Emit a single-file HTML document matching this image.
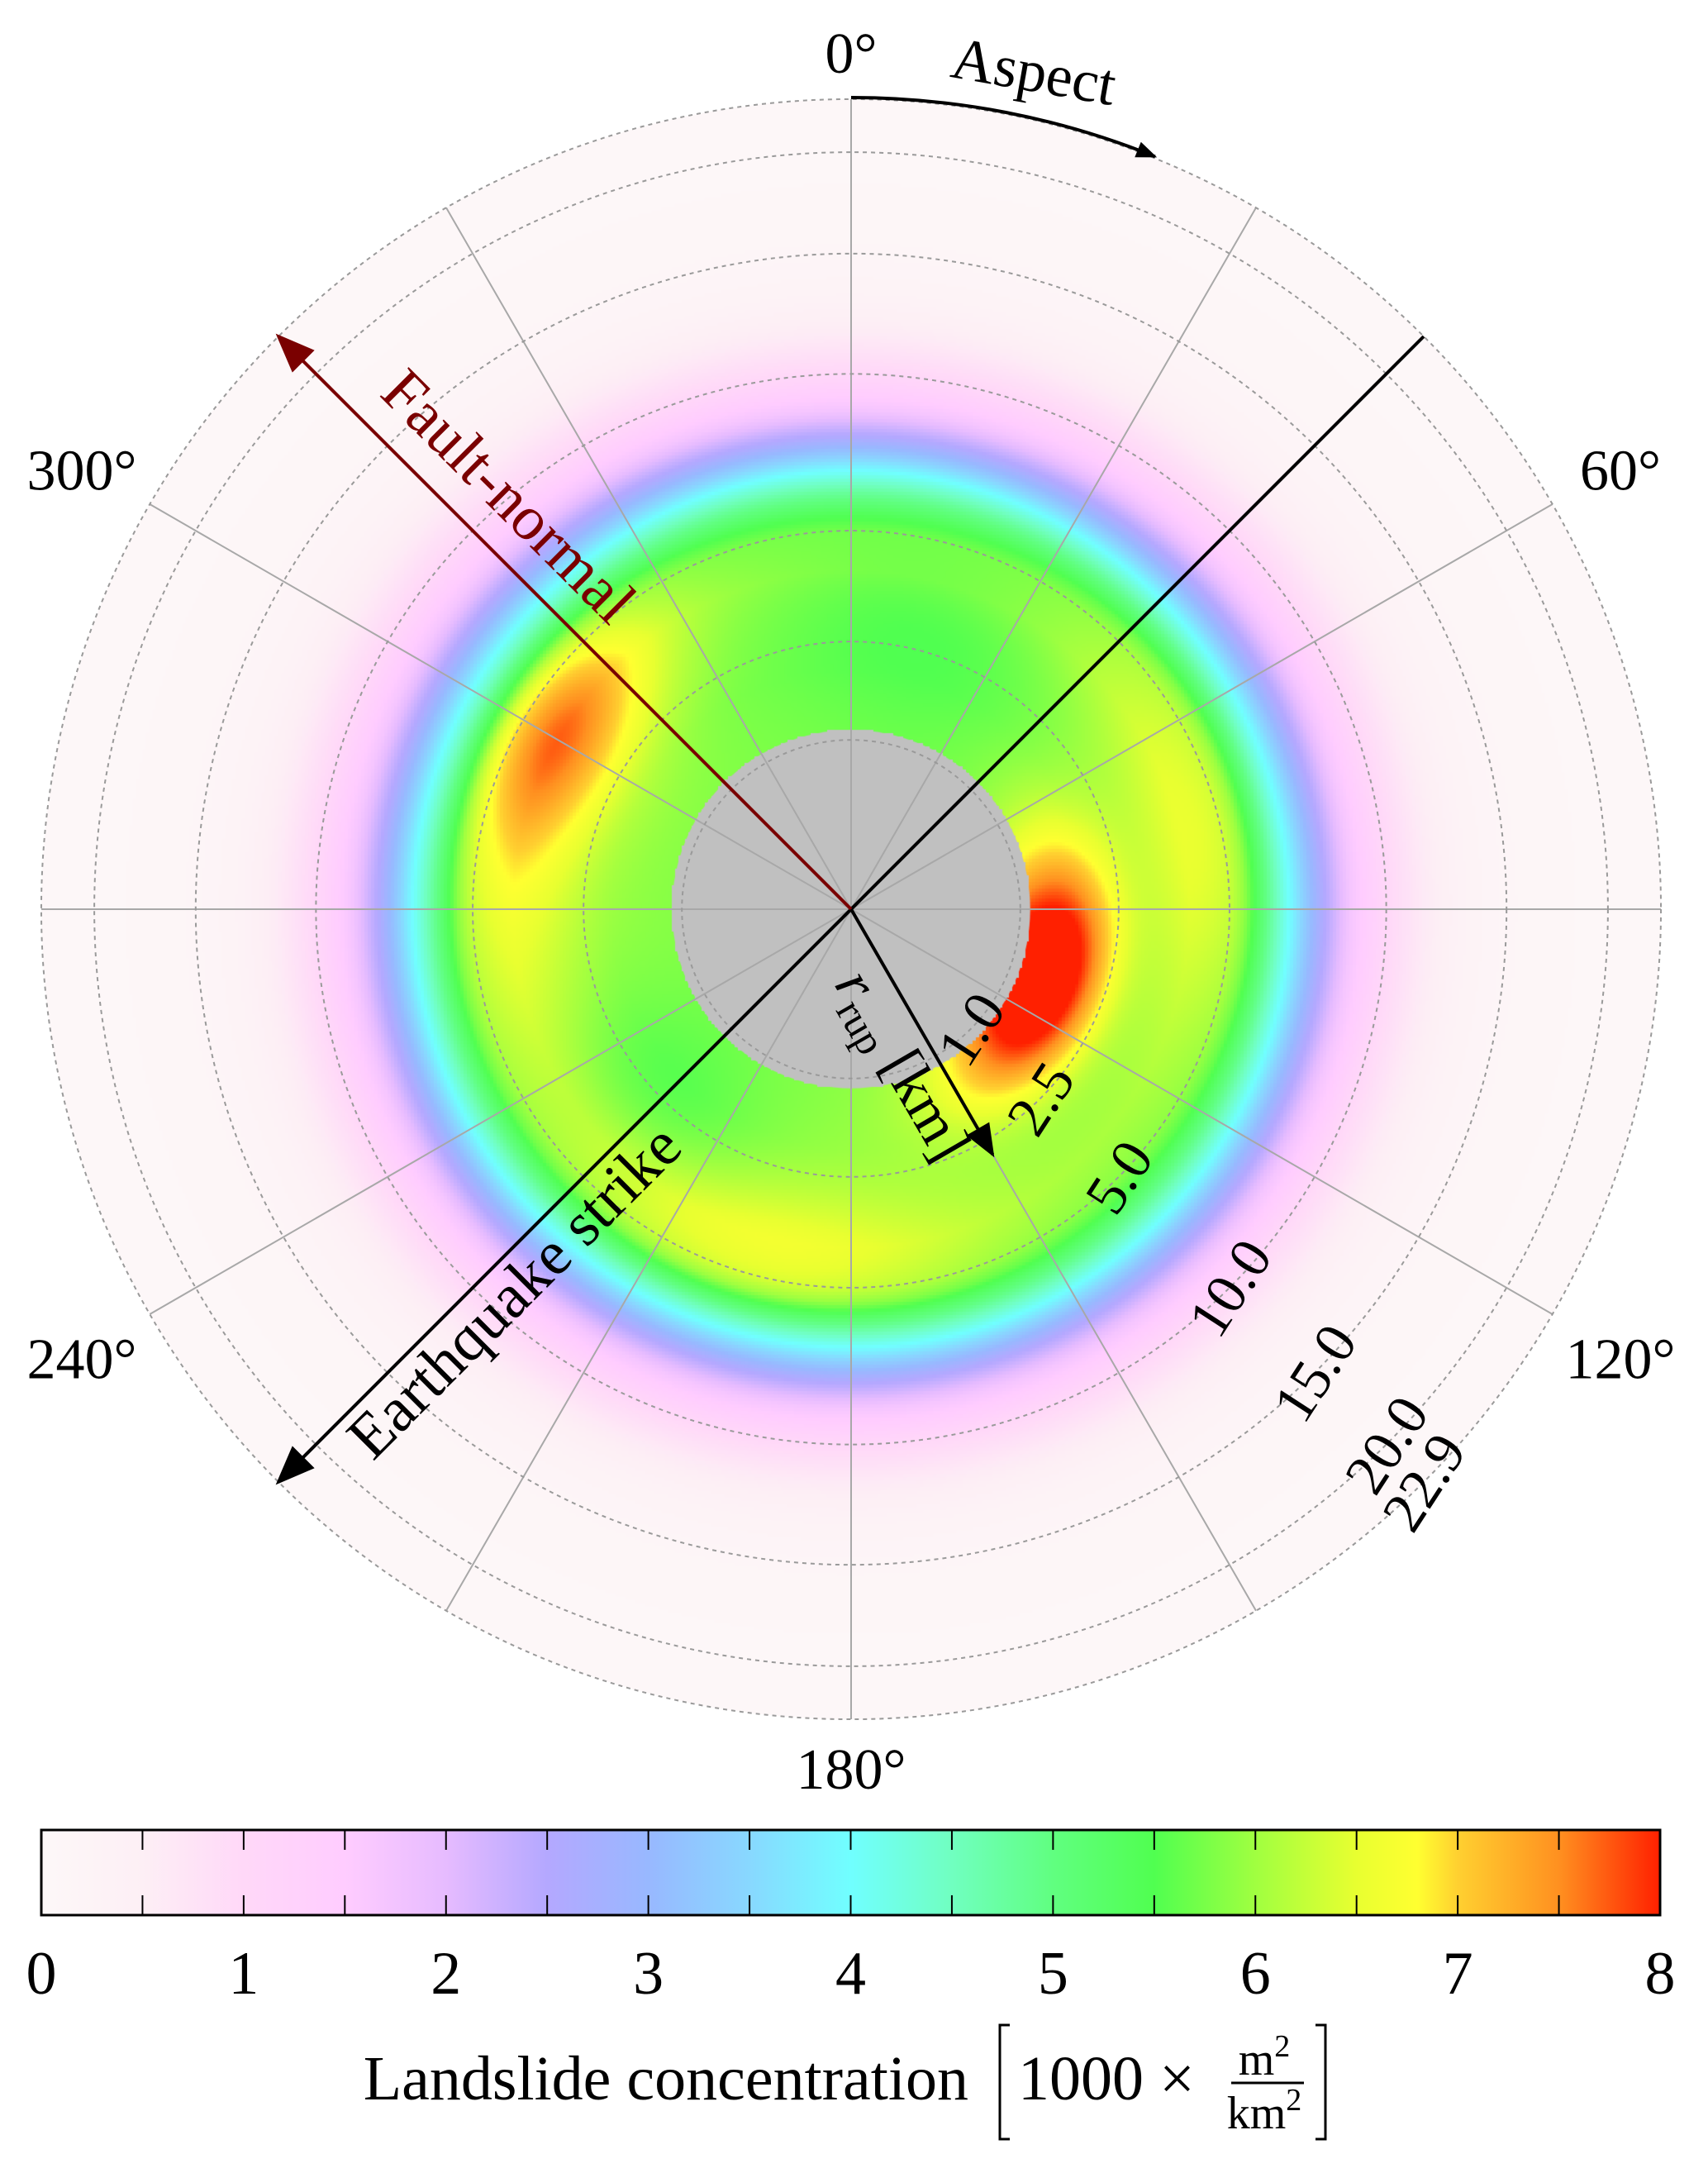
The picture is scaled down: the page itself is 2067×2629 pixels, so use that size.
<!DOCTYPE html>
<html><head><meta charset="utf-8"><style>
html,body{margin:0;padding:0;background:#fff}
#wrap{position:relative;width:2067px;height:2629px;overflow:hidden}
canvas,svg{position:absolute;left:0;top:0}
text{font-family:"Liberation Serif",serif}
</style></head><body>
<div id="wrap">
<canvas id="heat" width="2067" height="2629"></canvas>
<svg id="svg" width="2067" height="2629"></svg>
</div>
<script>
// ---- data ----
const ringDistances = [1.0, 2.5, 5.0, 10.0, 15.0, 20.0, 22.9];
const ringLabels = ["1.0","2.5","5.0","10.0","15.0","20.0","22.9"];
const angleLabelValues = [0, 60, 120, 180, 240, 300];
const profileDist = [1.1, 2.0, 3.0, 4.0, 5.0, 5.4, 6.05, 6.7, 7.2, 7.75, 8.7, 10.1, 11.5, 13.2, 16, 23];
const profileValue = [5.8, 5.8, 5.9, 6.0, 5.8, 5.5, 4.8, 4.0, 3.3, 2.6, 1.7, 1.0, 0.6, 0.3, 0.1, 0.05];
const hotspotAspect = [110, 301, 75, 195, 268, 15, 225];
const hotspotDist = [1.4, 4.0, 4.5, 4.3, 4.0, 3.0, 2.6];
const hotspotPeak = [3.0, 1.6, 0.6, 0.7, 0.5, -0.4, -0.4];
const hotspotAspectWidth = [26, 15, 25, 25, 20, 25, 18];
const hotspotDistWidth = [0.7, 1.1, 1.3, 1.3, 1.3, 1.3, 1.0];
const colorTicks = [0,1,2,3,4,5,6,7,8];
const strikeAspect = 225, faultNormalAspect = 315, rrupAspect = 150, rrupLength = 2.8, ringLabelAspect = 135;
const innerDist = 1.12;

// ---- scales ----
const CX = 1030, CY = 1100, K = 204.8, DMAX = 22.9;
const rad = d => K * Math.sqrt(d);
const R = rad(DMAX);
const pt = (aspect, r) => [CX + r*Math.sin(aspect*Math.PI/180), CY - r*Math.cos(aspect*Math.PI/180)];
const cStops = [[0,"#fdf8f8"],[0.5,"#fdeff5"],[1,"#ffd8f8"],[1.5,"#ffccff"],[2,"#e6bbff"],[2.5,"#b4a8ff"],[3,"#98b8ff"],[3.5,"#88d8ff"],[4,"#70ffff"],[4.5,"#70ffc0"],[5,"#60ff80"],[5.5,"#50ff50"],[6,"#a0ff40"],[6.5,"#e8ff30"],[6.8,"#ffff30"],[7,"#ffd030"],[7.5,"#ff9020"],[8,"#ff2000"]];
function hex(h){return [parseInt(h.slice(1,3),16),parseInt(h.slice(3,5),16),parseInt(h.slice(5,7),16)];}
function cmap(v){v=Math.max(0,Math.min(8,v));for(let i=1;i<cStops.length;i++){if(v<=cStops[i][0]){const a=cStops[i-1],b=cStops[i];const t=(v-a[0])/(b[0]-a[0]);const A=hex(a[1]),B=hex(b[1]);return A.map((x,k)=>Math.round(x+(B[k]-x)*t));}}return hex("#ff2000");}
function profile(d){if(d<=profileDist[0])return profileValue[0];for(let i=1;i<profileDist.length;i++){if(d<=profileDist[i]){const t=(d-profileDist[i-1])/(profileDist[i]-profileDist[i-1]);return profileValue[i-1]+t*(profileValue[i]-profileValue[i-1]);}}return profileValue[profileValue.length-1];}
function field(aspect,d){let v=profile(d);const w=Math.max(0,Math.min(1,(6.6-d)/1.2));for(let i=0;i<hotspotAspect.length;i++){let da=((aspect-hotspotAspect[i])%360+540)%360-180;const dd=d-hotspotDist[i];v+=w*hotspotPeak[i]*Math.exp(-0.5*(da/hotspotAspectWidth[i])**2-0.5*(dd/hotspotDistWidth[i])**2);}return v;}

// ---- heatmap ----
const ctx=document.getElementById('heat').getContext('2d');
const S=4;
for(let y=Math.floor(CY-R);y<CY+R;y+=S){for(let x=Math.floor(CX-R);x<CX+R;x+=S){const dx=x+S/2-CX,dy=y+S/2-CY;const r=Math.hypot(dx,dy);if(r>R+2)continue;const d=(r/K)**2;let c;if(d<innerDist)c=[192,192,192];else{const a=(Math.atan2(dx,-dy)*180/Math.PI+360)%360;c=cmap(field(a,d));}ctx.fillStyle=`rgb(${c[0]},${c[1]},${c[2]})`;ctx.fillRect(x,y,S,S);}}
ctx.fillStyle="#c0c0c0";ctx.beginPath();ctx.arc(CX,CY,rad(innerDist),0,2*Math.PI);ctx.fill();
ctx.globalCompositeOperation="destination-in";ctx.beginPath();ctx.arc(CX,CY,R,0,2*Math.PI);ctx.fill();ctx.globalCompositeOperation="source-over";

// ---- svg ----
const NS="http://www.w3.org/2000/svg";const svg=document.getElementById('svg');
function el(tag,attrs,parent){const e=document.createElementNS(NS,tag);for(const k in attrs)e.setAttribute(k,attrs[k]);(parent||svg).appendChild(e);return e;}
const defs=el('defs',{});
const m1=el('marker',{id:'ah',refX:'9',refY:'4',orient:'auto',markerUnits:'userSpaceOnUse',viewBox:'0 0 10 8',markerWidth:'50',markerHeight:'38'},defs);
el('path',{d:'M0,0 L10,4 L0,8 Z',fill:'#000'},m1);
const m2=el('marker',{id:'ahr',refX:'9',refY:'4',orient:'auto',markerUnits:'userSpaceOnUse',viewBox:'0 0 10 8',markerWidth:'50',markerHeight:'38'},defs);
el('path',{d:'M0,0 L10,4 L0,8 Z',fill:'#7a0000'},m2);
const m3=el('marker',{id:'ahs',refX:'9',refY:'4',orient:'auto',markerUnits:'userSpaceOnUse',viewBox:'0 0 10 8',markerWidth:'44',markerHeight:'32'},defs);
el('path',{d:'M0,0 L10,4 L0,8 Z',fill:'#000'},m3);
const m4=el('marker',{id:'aha',refX:'9',refY:'4',orient:'auto',markerUnits:'userSpaceOnUse',viewBox:'0 0 10 8',markerWidth:'32',markerHeight:'20'},defs);
el('path',{d:'M0,0 L10,4 L0,8 Z',fill:'#000'},m4);

for(let a=0;a<360;a+=30){const [x,y]=pt(a,R);const l=el('line',{x1:CX,y1:CY,x2:x,y2:y,stroke:'#a8a8a8','stroke-width':2});
}
ringDistances.forEach((d,i)=>{const c=el('circle',{cx:CX,cy:CY,r:rad(d),fill:'none',stroke:'#9a9a9a','stroke-width':2,'stroke-dasharray':'5,5'});
});
ringDistances.forEach((d,i)=>{const [x,y]=pt(ringLabelAspect,rad(d));const t=el('text',{x:x,y:y+24,'font-size':70,'text-anchor':'middle',transform:`rotate(-57 ${x} ${y})`});t.textContent=ringLabels[i];
});
angleLabelValues.forEach(a=>{const off=(a%180===0)?62:95;const [x,y]=pt(a,R+off);const t=el('text',{x:x,y:y+30,'font-size':70,'text-anchor':'middle'});t.textContent=a+'°';
if(a===0){t.setAttribute('y',y+30);}if(a===180){t.setAttribute('y',y+22);}
});

{const [x1,y1]=pt(strikeAspect-180,R);const [x2,y2]=pt(strikeAspect,R);const l=el('line',{x1,y1,x2,y2,stroke:'#000','stroke-width':4,'marker-end':'url(#ah)'});

const tx=640,ty=1580;const t=el('text',{x:tx,y:ty,'font-size':76,'text-anchor':'middle',transform:`rotate(-45 ${tx} ${ty})`});t.textContent='Earthquake strike';
}
{const [x2,y2]=pt(faultNormalAspect,R);const l=el('line',{x1:CX,y1:CY,x2,y2,stroke:'#7a0000','stroke-width':4,'marker-end':'url(#ahr)'});

const tx=598,ty=618;const t=el('text',{x:tx,y:ty,'font-size':76,'text-anchor':'middle',fill:'#7a0000',transform:`rotate(45 ${tx} ${ty})`});t.textContent='Fault-normal';
}
{const [x2,y2]=pt(rrupAspect,rad(rrupLength));const l=el('line',{x1:CX,y1:CY,x2,y2,stroke:'#000','stroke-width':4,'marker-end':'url(#ahs)'});

const tx=1072,ty=1300;const t=el('text',{x:tx,y:ty,'font-size':72,'text-anchor':'middle',transform:`rotate(60 ${tx} ${ty})`});
const a=el('tspan',{'font-style':'italic'},t);a.textContent='r';const b=el('tspan',{'font-size':50,dy:14},t);b.textContent='rup';const c=el('tspan',{dy:-14},t);c.textContent=' [km]';
}
{const r=R+2;const [x1,y1]=pt(0,r);const [x2,y2]=pt(22,r);const p=el('path',{d:`M${x1},${y1} A${r},${r} 0 0 1 ${x2},${y2}`,fill:'none',stroke:'#000','stroke-width':4,'marker-end':'url(#aha)'});

const t=el('text',{x:1247,y:110,'font-size':72,'text-anchor':'middle',transform:'rotate(10 1247 110)'});t.textContent='Aspect';
}

// ---- colorbar ----
const BX0=50,BX1=2009,BY0=2214,BY1=2317;
const cb=el('g',{});
const lg=el('linearGradient',{id:'cg',x1:'0',x2:'1',y1:'0',y2:'0'},defs);
cStops.forEach(s=>el('stop',{offset:s[0]/8,'stop-color':s[1]},lg));
el('rect',{x:BX0,y:BY0,width:BX1-BX0,height:BY1-BY0,fill:'url(#cg)',stroke:'#000','stroke-width':3},cb);
const cx=v=>BX0+(BX1-BX0)*v/8;
for(let v=0.5;v<8;v+=0.5){el('line',{x1:cx(v),x2:cx(v),y1:BY0,y2:BY0+24,stroke:'#000','stroke-width':2},cb);el('line',{x1:cx(v),x2:cx(v),y1:BY1,y2:BY1-24,stroke:'#000','stroke-width':2},cb);}
colorTicks.forEach(v=>{const t=el('text',{x:cx(v),y:2412,'font-size':74,'text-anchor':'middle'},cb);t.textContent=v;
});
const tt=el('text',{x:1172,y:2540,'font-size':76,'text-anchor':'end'});tt.textContent='Landslide concentration';

el('path',{d:'M1222,2450 L1210,2450 L1210,2588 L1222,2588',fill:'none',stroke:'#000','stroke-width':3});
el('path',{d:'M1592,2450 L1604,2450 L1604,2588 L1592,2588',fill:'none',stroke:'#000','stroke-width':3});
const t2=el('text',{x:1232,y:2540,'font-size':76});t2.textContent='1000 ×';

const t3=el('text',{x:1530,y:2510,'font-size':56,'text-anchor':'middle'});t3.textContent='m';el('tspan',{'font-size':38,dy:-22},t3).textContent='2';

el('line',{x1:1490,x2:1578,y1:2520,y2:2520,stroke:'#000','stroke-width':3});
const t4=el('text',{x:1530,y:2575,'font-size':56,'text-anchor':'middle'});t4.textContent='km';el('tspan',{'font-size':38,dy:-22},t4).textContent='2';

</script>
</body></html>
